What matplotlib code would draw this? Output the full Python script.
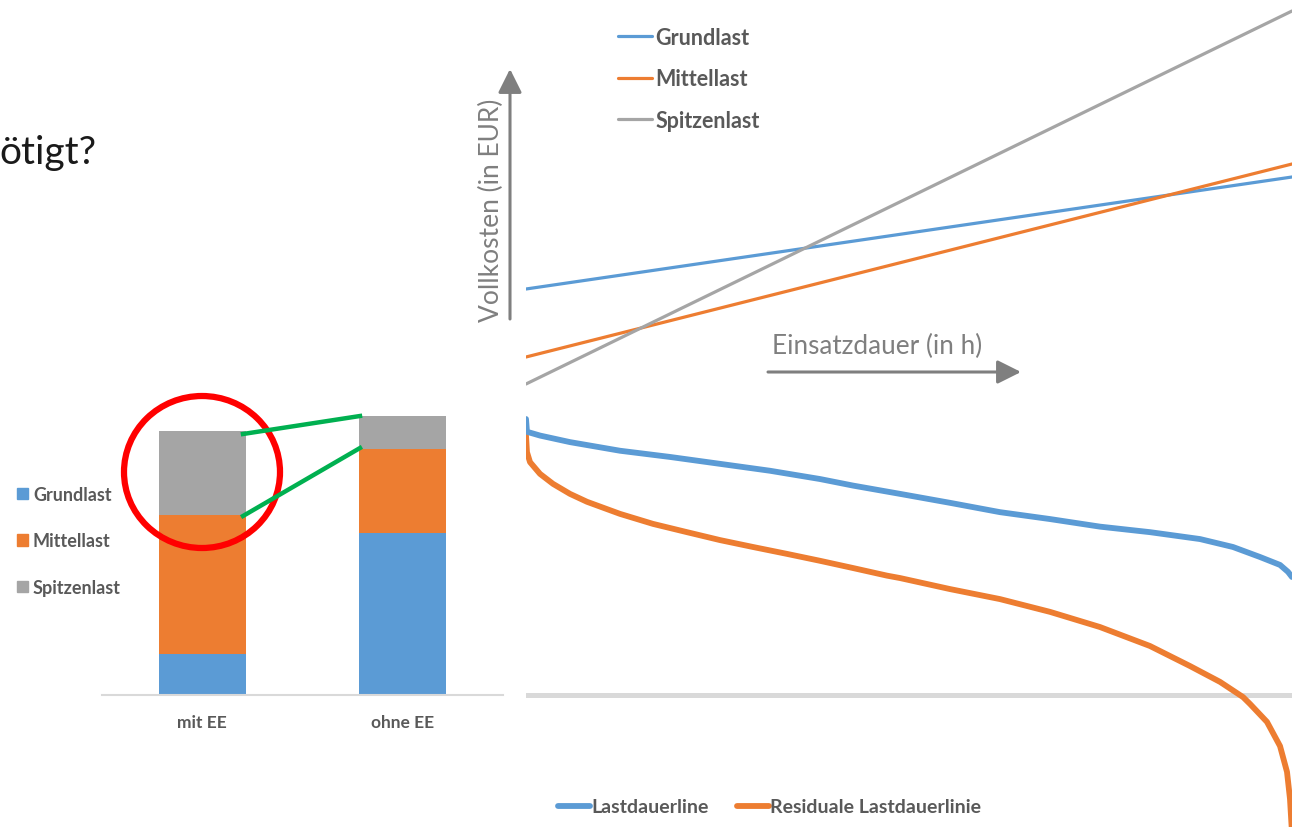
import matplotlib
matplotlib.use("Agg")
import matplotlib.pyplot as plt
from matplotlib.patches import Ellipse, Patch

plt.rcParams['font.family'] = ['Lato', 'DejaVu Sans']

W, H = 1303, 828
BLUE, ORANGE, GREY = '#5b9bd5', '#ed7d31', '#a5a5a5'
TXT = '#595959'

# stacked bars: Kraftwerkspark mit / ohne erneuerbare Energien
categories = ['mit EE', 'ohne EE']
grundlast = [15, 59]
mittellast = [50.5, 30.5]
spitzenlast = [30.5, 12]

# Vollkosten über Einsatzdauer (Anfangs- und Endwert je Kraftwerkstyp)
hours_cost = [0, 8760]
cost_grund = [110, 222]
cost_mittel = [42, 235]
cost_spitze = [15, 388]

# Lastdauerlinie (GW über Stunden des Jahres)
hours_load = [0, 11, 160, 503, 1075, 1647, 2219, 2790, 3362, 3740, 4277, 4849, 5420,
              5992, 6564, 7136, 7708, 8085, 8394, 8623, 8714, 8760]
last = [80.0, 76.3, 75.2, 73.3, 70.8, 69.0, 67.0, 65.0, 62.6, 60.7, 58.3, 55.7, 53.0,
        51.0, 48.8, 47.2, 45.2, 42.9, 40.0, 37.7, 35.7, 34.2]

# residuale Lastdauerlinie (Last minus erneuerbare Einspeisung)
hours_res = [0, 11, 46, 160, 309, 503, 698, 1075, 1452, 1841, 2219, 2596, 2985, 3362,
             3740, 4128, 4277, 4849, 5420, 5992, 6564, 7136, 7593, 7937, 8200, 8280,
             8474, 8623, 8703, 8737, 8760]
residual = [75.2, 70.4, 67.5, 64.1, 61.2, 58.3, 56.0, 52.5, 49.6, 47.2, 44.9, 42.9, 40.9,
            38.9, 36.8, 34.6, 33.9, 30.7, 27.8, 24.1, 19.7, 14.2, 8.4, 3.8, -0.6, -2.6,
            -7.8, -14.8, -22.3, -30.1, -40.0]

fig = plt.figure(figsize=(W / 100, H / 100), dpi=100)


def px_axes(x0, y0, x1, y1):
    return fig.add_axes([x0 / W, 1 - y1 / H, (x1 - x0) / W, (y1 - y0) / H])


# --- bar chart ---
axb = px_axes(102, 400, 503, 696)
x = range(len(categories))
bw = 0.434
axb.bar(x, grundlast, bw, color=BLUE)
axb.bar(x, mittellast, bw, bottom=grundlast, color=ORANGE)
bottom3 = [g + m for g, m in zip(grundlast, mittellast)]
axb.bar(x, spitzenlast, bw, bottom=bottom3, color=GREY)
axb.set_xlim(-0.5, 1.5)
axb.set_ylim(0, 296 / 2.75)
axb.set_yticks([])
axb.set_xticks(list(x), categories, fontsize=12.5, fontweight='bold', color=TXT)
axb.tick_params(axis='x', length=0, pad=14)
for s in ['top', 'right', 'left']:
    axb.spines[s].set_visible(False)
axb.spines['bottom'].set_color('#d9d9d9')
axb.spines['bottom'].set_linewidth(1.5)
axb.patch.set_alpha(0)
axb.legend([Patch(color=BLUE), Patch(color=ORANGE), Patch(color=GREY)],
           ['Grundlast', 'Mittellast', 'Spitzenlast'],
           loc='upper left', bbox_to_anchor=(17 / W, 1 - 487 / H),
           bbox_transform=fig.transFigure, frameon=False,
           prop=dict(size=13, weight='bold'), labelcolor=TXT,
           handlelength=0.6, handleheight=0.6, handletextpad=0.28,
           labelspacing=1.63, borderaxespad=0, borderpad=0)

# --- Vollkosten ---
axc = px_axes(526, 0, 1292, 400)
lg, = axc.plot(hours_cost, cost_grund, color=BLUE, lw=2.3, solid_capstyle='round')
lm, = axc.plot(hours_cost, cost_mittel, color=ORANGE, lw=2.3, solid_capstyle='round')
ls, = axc.plot(hours_cost, cost_spitze, color=GREY, lw=2.3, solid_capstyle='round')
axc.set_xlim(0, 8760)
axc.set_ylim(0, 400)
axc.axis('off')
axc.legend([lg, lm, ls], ['Grundlast', 'Mittellast', 'Spitzenlast'],
           loc='upper left', bbox_to_anchor=(618 / W, 1 - 28 / H),
           bbox_transform=fig.transFigure, frameon=False,
           prop=dict(size=15.5, weight='bold'), labelcolor=TXT,
           handlelength=1.58, handletextpad=0.14, labelspacing=0.95,
           borderaxespad=0, borderpad=0)

# --- Lastdauerlinien ---
axl = px_axes(526, 400, 1292, 828)
axl.axhline(0, color='#d9d9d9', lw=3.6, zorder=1)
l1, = axl.plot(hours_load, last, color=BLUE, lw=4.2, solid_capstyle='round', zorder=3)
l2, = axl.plot(hours_res, residual, color=ORANGE, lw=4.2, solid_capstyle='round', zorder=2)
axl.set_xlim(0, 8760)
axl.set_ylim(-132 / 3.45, 296 / 3.45)
axl.axis('off')
axl.legend([l1, l2], ['Lastdauerline', 'Residuale Lastdauerlinie'],
           loc='center left', bbox_to_anchor=(558 / W, 1 - 808 / H),
           bbox_transform=fig.transFigure, frameon=False, ncol=2,
           prop=dict(size=14, weight='bold'), labelcolor=TXT,
           handlelength=1.62, handletextpad=0.1, columnspacing=1.45,
           borderaxespad=0, borderpad=0)

# --- overlay: Beschriftungen, Pfeile, Markierung ---
ov = fig.add_axes([0, 0, 1, 1], zorder=10)
ov.set_xlim(0, W)
ov.set_ylim(H, 0)
ov.axis('off')
ov.patch.set_alpha(0)

ov.text(-1, 153, 'ötigt?', fontsize=28, color='#1a1a1a', va='center', ha='left')

ov.text(491, 210, 'Vollkosten (in EUR)', rotation=90, fontsize=19, color='#7f7f7f',
        ha='center', va='center')
ov.text(772, 346, 'Einsatzdauer (in h)', fontsize=18.8, color='#7f7f7f',
        ha='left', va='center')
arrow = dict(arrowstyle='-|>,head_length=0.8,head_width=0.4', lw=2.2,
             color='#7f7f7f', mutation_scale=18, shrinkA=0, shrinkB=0)
ov.annotate('', xy=(510, 70), xytext=(510, 320), arrowprops=arrow)
ov.annotate('', xy=(1021, 373), xytext=(768, 373), arrowprops=arrow)

ov.add_patch(Ellipse((202, 473), 156, 152, fill=False, ec='#ff0000', lw=4.5))
ov.plot([243, 360], [435, 417], color='#00b050', lw=3.2)
ov.plot([243, 360], [517, 449], color='#00b050', lw=3.2)

fig.savefig('out.png', dpi=100)
